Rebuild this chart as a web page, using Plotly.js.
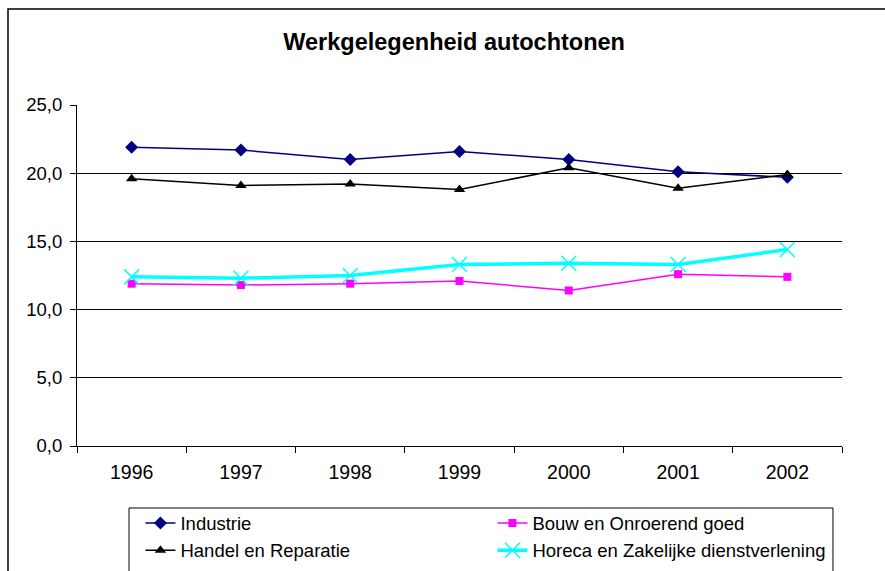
<!DOCTYPE html>
<html>
<head>
<meta charset="utf-8">
<script src="https://cdn.plot.ly/plotly-3.0.1.min.js"></script>
<style>
  html, body { margin: 0; padding: 0; background: #ffffff; }
  #chart { width: 885px; height: 571px; }
</style>
</head>
<body>
<div id="chart"></div>
<script>
    // jaren op de x-as
    const years = ['1996', '1997', '1998', '1999', '2000', '2001', '2002'];

    // aandeel werkgelegenheid per sector (%)
    const industrie = [21.9, 21.7, 21.0, 21.6, 21.0, 20.1, 19.7];
    const bouw = [11.9, 11.8, 11.9, 12.1, 11.4, 12.6, 12.4];
    const handel = [19.6, 19.1, 19.2, 18.8, 20.4, 18.9, 19.9];
    const horeca = [12.4, 12.3, 12.5, 13.3, 13.4, 13.3, 14.4];

    const yTicks = [0, 5, 10, 15, 20, 25];
    const gridValues = [5, 10, 15, 20];

    const fontFamily = 'Liberation Sans, Arial, sans-serif';

    function lineTrace(name, values, color, width, symbol, size) {
        return {
            type: 'scatter',
            mode: 'lines+markers',
            name: name,
            x: years,
            y: values,
            line: { color: color, width: width },
            marker: { symbol: symbol, size: size, color: color },
        };
    }

    const data = [
        lineTrace('Industrie', industrie, '#000080', 1.5, 'diamond', 10),
        lineTrace('Bouw en Onroerend goed', bouw, '#ff00ff', 1.5, 'square', 8),
        lineTrace('Handel en Reparatie', handel, '#000000', 1.5, 'triangle-up', 10),
        lineTrace('Horeca en Zakelijke dienstverlening', horeca, '#00ffff', 3.5, 'x-thin', 15),
    ];
    data[3].marker.line = { color: '#00ffff', width: 1.5 };

    // lege trace zodat yaxis2 (rasterlijnen) getekend wordt
    data.push({
        type: 'scatter', x: [years[0]], y: [null], yaxis: 'y2',
        showlegend: false, hoverinfo: 'skip', mode: 'lines',
    });

    const layout = {
        width: 885,
        height: 571,
        margin: { l: 77, r: 43, t: 105, b: 125 },
        paper_bgcolor: '#ffffff',
        plot_bgcolor: '#ffffff',
        separators: ',.',
        font: { family: fontFamily, color: '#000000', size: 18 },
        title: {
            text: '<b>Werkgelegenheid autochtonen</b>',
            font: { family: fontFamily, size: 23.5, color: '#000000' },
            xref: 'paper',
            x: 0.493,
            yref: 'container',
            y: 0.926,
            yanchor: 'middle',
        },
        xaxis: {
            type: 'category',
            range: [-0.5, years.length - 0.5],
            tickson: 'boundaries',
            ticks: 'outside',
            ticklen: 6,
            tickcolor: '#000000',
            ticklabelstandoff: 9,
            showline: true,
            linecolor: '#000000',
            linewidth: 1,
            showgrid: false,
            zeroline: false,
            tickfont: { size: 19.5 },
            fixedrange: true,
        },
        yaxis: {
            range: [0, 25],
            tickvals: yTicks,
            tickformat: '.1f',
            ticks: 'outside',
            ticklen: 6,
            tickcolor: '#000000',
            ticklabelstandoff: 4,
            showline: true,
            linecolor: '#000000',
            linewidth: 1,
            showgrid: false,
            zeroline: false,
            tickfont: { size: 18.5 },
            fixedrange: true,
        },
        yaxis2: {
            overlaying: 'y',
            range: [0, 25],
            tickvals: gridValues,
            showticklabels: false,
            ticks: '',
            showgrid: true,
            gridcolor: '#000000',
            gridwidth: 1,
            zeroline: false,
            showline: false,
            fixedrange: true,
        },
        showlegend: true,
        legend: {
            orientation: 'h',
            xref: 'container',
            x: 0.1587,
            xanchor: 'left',
            yref: 'container',
            y: 0.1163,
            yanchor: 'top',
            entrywidth: 307,
            entrywidthmode: 'pixels',
            bgcolor: 'rgba(0,0,0,0)',
            borderwidth: 0,
            font: { family: fontFamily, size: 18.5, color: '#000000' },
        },
        shapes: [
            {
                type: 'rect', xref: 'paper', yref: 'paper',
                x0: -0.0902, x1: 1.2, y0: -1, y1: 1.2815,
                line: { color: '#000000', width: 1.5 },
                fillcolor: 'rgba(0,0,0,0)',
                layer: 'below',
            },
            {
                type: 'rect', xref: 'paper', yref: 'paper',
                x0: 0.068, x1: 0.9882, y0: -1, y1: -0.1818,
                line: { color: '#000000', width: 1 },
                fillcolor: 'rgba(0,0,0,0)',
            },
        ],
    };

    Plotly.newPlot('chart', data, layout, { displayModeBar: false, staticPlot: true });
</script>
</body>
</html>
